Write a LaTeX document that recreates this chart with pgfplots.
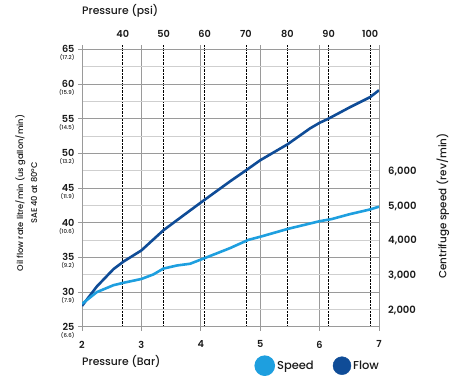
\documentclass[border=0pt]{standalone}
\usepackage{fontspec}
\IfFontExistsTF{Poppins Medium}{\setmainfont{Poppins Medium}[BoldFont={Poppins SemiBold}]}{\setmainfont{Poppins}}
\usepackage{pgfplots}
\pgfplotsset{compat=1.18}
\definecolor{speedc}{HTML}{1E9FDF}
\definecolor{flowc}{HTML}{0F4C97}
\definecolor{gridc}{HTML}{9A9A9A}
\definecolor{minorc}{HTML}{CFCFCF}
\definecolor{txt}{HTML}{1A1A1A}
\newcommand{\yl}[2]{\begin{tabular}[t]{@{}r@{}}\textbf{#1}\\[-4.2pt]{\fontsize{5.4}{6}\selectfont(#2)}\end{tabular}}
\pgfplotsset{common/.style={width=297pt, height=277.4pt, scale only axis, at={(82pt,53.3pt)}, anchor=south west, xmin=2, xmax=7}}
\begin{document}
\begin{tikzpicture}
\useasboundingbox (0,0) rectangle (450pt,380pt);
% top psi axis with dotted lines
\begin{axis}[common, ymin=0, ymax=1,
  axis x line*=top, axis y line=none, axis line style={draw=none},
  xtick={2.685,3.374,4.066,4.760,5.456,6.152,6.850},
  xticklabels={\textbf{40},\textbf{50},\textbf{60},\textbf{70},\textbf{80},\textbf{90},\textbf{100}},
  xmajorgrids, major grid style={black, densely dotted, line width=0.8pt},
  tick align=outside, major tick length=4pt, tick style={black, densely dotted, line width=0.8pt},
  xticklabel style={font=\fontsize{9.7}{11}\selectfont, text=txt, yshift=4.3pt},
  xlabel={Pressure (psi)},
  xlabel style={at={(axis description cs:0,1.138)}, anchor=west, inner sep=0pt, font=\fontsize{10.8}{13}\selectfont, text=txt},
]
\end{axis}
% left axis: flow
\begin{axis}[common, ymin=25, ymax=65,
  axis line style={gridc, line width=0.9pt},
  xtick={2,3,4,5,6,7}, xtick pos=both, xticklabel pos=lower, ytick pos=left,
  xticklabels={\textbf{2},\textbf{3},\textbf{4},\textbf{5},\textbf{6},\textbf{7}},
  ytick={25,30,...,65},
  yticklabels={\yl{25}{6.6},\yl{30}{7.9},\yl{35}{9.2},\yl{40}{10.6},\yl{45}{11.9},\yl{50}{13.2},\yl{55}{14.5},\yl{60}{15.9},\yl{65}{17.2}},
  minor ytick={27.5,32.5,...,62.5},
  xmajorgrids, ymajorgrids, yminorgrids,
  major grid style={gridc, line width=0.9pt},
  minor grid style={minorc, line width=0.9pt},
  tick align=outside, major tick length=4pt, minor tick length=0pt,
  tick style={gridc, line width=0.9pt},
  xticklabel style={font=\fontsize{9.7}{11}\selectfont, text=txt, yshift=-6.6pt},
  yticklabel style={font=\fontsize{9.7}{11.4}\selectfont, text=txt, anchor=base east, yshift=-3.4pt},
  xlabel={Pressure (Bar)},
  xlabel style={at={(axis description cs:0,-0.127)}, anchor=west, inner sep=0pt, font=\fontsize{10.8}{13}\selectfont, text=txt},
  ylabel={Oil flow rate litre/min (us gallon/min)\\SAE 40 at 80°C},
  ylabel style={at={(axis description cs:-0.1875,0.482)}, anchor=center, align=center, font=\fontsize{8.3}{14}\selectfont, text=txt},
]
\addplot[flowc, line width=2.6pt, line join=round] coordinates {
(2.00,28.0)(2.25,30.8)(2.53,33.3)(2.70,34.4)(3.00,36.0)(3.37,38.9)(3.70,41.0)(4.00,42.9)(4.50,46.0)(4.77,47.6)(5.00,49.0)(5.46,51.3)(5.84,53.6)(6.00,54.4)(6.15,55.0)(6.50,56.6)(6.85,58.1)(7.00,59.1)};
\end{axis}
% right axis: speed
\begin{axis}[common, ymin=1520, ymax=9540,
  axis x line=none, axis y line*=right, axis line style={draw=none},
  ytick={2000,3000,4000,5000,6000},
  yticklabels={{\textbf{2,000}},{\textbf{3,000}},{\textbf{4,000}},{\textbf{5,000}},{\textbf{6,000}}},
  major tick length=0pt,
  yticklabel style={font=\fontsize{10}{11}\selectfont, text=txt, anchor=west, xshift=5.7pt},
  ylabel={Centrifuge speed (rev/min)},
  ylabel style={at={(axis description cs:1.2155,0.435)}, anchor=center, rotate=0, font=\fontsize{10.4}{12}\selectfont, text=txt},
  legend style={at={(axis description cs:0.580,-0.1406)}, anchor=west, draw=none, fill=none, inner sep=0pt,
    font=\fontsize{11.5}{13}\selectfont, text=txt, /tikz/every even column/.append style={column sep=17pt}},
  legend columns=2, legend cell align=left,
]
\addplot[speedc, line width=2.6pt, line join=round, legend image code/.code={\fill[speedc] (9pt,0pt) circle (9pt);}] coordinates {
(2.00,2180)(2.25,2520)(2.53,2720)(2.70,2790)(3.00,2900)(3.20,3030)(3.37,3200)(3.60,3290)(3.82,3340)(4.15,3560)(4.49,3790)(4.80,4030)(5.00,4120)(5.47,4350)(6.00,4570)(6.20,4630)(6.50,4770)(6.85,4910)(7.00,4990)};
\addlegendentry{Speed}
\addlegendimage{legend image code/.code={\fill[flowc] (9pt,0pt) circle (9pt);}}
\addlegendentry{Flow}
\end{axis}
\end{tikzpicture}
\end{document}
